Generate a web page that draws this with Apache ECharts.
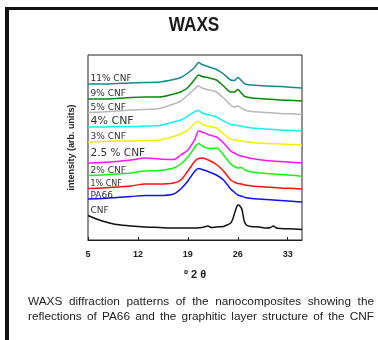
<!DOCTYPE html>
<html>
<head>
<meta charset="utf-8">
<script src="https://cdn.jsdelivr.net/npm/echarts@6/dist/echarts.min.js"></script>
<style>
  html, body { margin: 0; padding: 0; background: #fff; }
  #waxsChart { width: 378px; height: 340px; }
</style>
</head>
<body>
<div id="waxsChart"></div>
<script>
// 2θ grid shared by the composite curves
const twoTheta = [5, 7, 9, 11, 13, 15, 17, 18, 19, 20, 20.5, 21, 22, 23, 24, 25, 25.5, 26, 26.5, 27, 28, 30, 32, 34, 35];

// stacked (offset) intensities, arb. units
const cnf11 = [156, 156, 156.5, 157, 157.5, 158, 160.5, 162.5, 167, 173, 177.5, 175.5, 173, 170.5, 166, 160, 159.5, 162.5, 159.5, 156, 155, 154, 153.5, 152.5, 152];
const cnf9 = [141, 141, 141.5, 142.5, 143, 143, 146, 148, 152.5, 161, 165, 163.5, 162, 160, 154, 148, 148, 150.5, 147, 143.5, 142, 141, 140, 139.5, 139];
const cnf5 = [127.5, 128, 129, 130, 130.5, 131.5, 136, 139, 145, 151.5, 154, 152, 150, 148, 142, 135, 133, 134, 132, 130, 128.5, 127.5, 126.5, 126, 125.5];
const cnf4 = [113, 113, 113.5, 113.5, 114, 114.5, 118, 120, 124, 128.5, 129.5, 127, 125, 123, 119, 115.5, 115, 114.5, 114, 113, 112, 111, 110, 109.5, 109];
const cnf3 = [98, 98.5, 99, 99, 99.5, 100, 103.5, 106, 110, 117, 118.5, 115.5, 113.5, 112, 106, 101, 100, 99.5, 99, 98.5, 97.5, 96.5, 96, 95.5, 95];
const cnf25 = [77, 77.5, 78.5, 80, 82, 81, 80.5, 85, 90, 101, 109, 108, 105, 103, 97, 89, 87, 85, 84, 83, 81.5, 79.5, 78.5, 77.5, 77];
const cnf2 = [64.5, 65, 66, 67, 69, 69.5, 72, 76, 83, 93, 96.5, 94, 91.5, 92, 85, 76, 73.5, 72, 72.5, 70, 68, 66.5, 65.5, 64.5, 63.5];
const cnf1 = [51.5, 52, 53, 54, 56, 56, 57, 60, 69, 79, 81.5, 82, 79.5, 75.5, 69, 60, 58, 56.5, 56, 55, 54, 53, 52, 51.5, 51];
const pa66 = [41, 41.5, 42.5, 43.5, 44.5, 44.5, 46, 51, 59, 69, 71.5, 70.5, 68, 65, 60, 51, 48, 45, 44, 42.5, 41.5, 40.5, 39.5, 38.5, 38];

// pure CNF has its own grid (sharp graphite peak)
const cnfTheta = [5, 6, 7, 8, 9, 11, 13, 15, 17, 19, 21, 21.8, 22.3, 23, 24, 24.5, 25, 25.3, 25.6, 25.9, 26.1, 26.4, 26.6, 26.9, 27.2, 27.8, 29, 30, 30.6, 31, 31.4, 32, 34, 35];
const cnf = [24.5, 21.5, 19, 17, 15.5, 14, 13, 12.5, 12, 12, 12.5, 14, 12.5, 13, 13.5, 15, 17, 21, 28, 34, 35, 33, 30, 19, 15, 13.5, 13, 12, 12.5, 14, 12, 11.5, 11, 10.5];

const xTicks = [5, 12, 19, 26, 33];
const curveNames = ['11% CNF', '9% CNF', '5% CNF', '4% CNF', '3% CNF', '2.5 % CNF', '2% CNF', '1% CNF', 'PA66', 'CNF'];
const curveData = [cnf11, cnf9, cnf5, cnf4, cnf3, cnf25, cnf2, cnf1, pa66];
const colors = ['#16898b', '#0b860f', '#b8b8b8', '#12f2f2', '#f2f000', '#ff14ff', '#14f514', '#ff1010', '#1010ff', '#111111'];
const captionLines = [
  'WAXS diffraction patterns of the nanocomposites showing the',
  'reflections of PA66 and the graphitic layer structure of the CNF',
];

const pair = (xs, ys) => ys.map((v, i) => [xs[i], v]);

const seriesData = curveData.map((ys, i) => ({
  name: curveNames[i],
  type: 'line',
  showSymbol: false,
  smooth: 0.3,
  lineStyle: { width: 1.5, color: colors[i] },
  data: pair(twoTheta, ys),
}));
seriesData.push({
  name: 'CNF',
  type: 'line',
  showSymbol: false,
  smooth: 0.3,
  lineStyle: { width: 1.5, color: colors[9] },
  data: pair(cnfTheta, cnf),
});

// label text sits at the left end of each curve
const labelStyle = [
  { top: 78.3, size: 9 },
  { top: 93.7, size: 9 },
  { top: 107.5, size: 9 },
  { top: 120.7, size: 11 },
  { top: 136.7, size: 9 },
  { top: 153.3, size: 10.5 },
  { top: 170.7, size: 9 },
  { top: 184, size: 8 },
  { top: 196, size: 9 },
  { top: 210.7, size: 9 },
];
const curveLabels = curveNames.map((name, i) => ({
  type: 'text',
  x: 90.5,
  y: labelStyle[i].top,
  style: {
    text: name,
    font: `${labelStyle[i].size}px "DejaVu Sans"`,
    fill: '#333',
    verticalAlign: 'middle',
  },
}));

// justified caption: lay the words out between left and right margins
const captionFont = '11.8px "Liberation Sans", Arial';
const ctx = document.createElement('canvas').getContext('2d');
ctx.font = captionFont;
const captionText = [];
captionLines.forEach((line, row) => {
  const words = line.split(' ');
  const widths = words.map((w) => ctx.measureText(w).width);
  const used = widths.reduce((a, b) => a + b, 0);
  const gap = (374 - 28 - used) / (words.length - 1);
  let x = 28;
  words.forEach((w, i) => {
    captionText.push({
      type: 'text',
      x,
      y: 302 + row * 15,
      style: { text: w, font: captionFont, fill: '#222', verticalAlign: 'middle' },
    });
    x += widths[i] + gap;
  });
});

const options = {
  animation: false,
  backgroundColor: '#fff',
  grid: {
    left: 88,
    right: 76,
    top: 55,
    bottom: 100,
    show: true,
    borderColor: '#222',
    borderWidth: 1,
  },
  xAxis: {
    type: 'value',
    min: 5,
    max: 35,
    name: 'º 2 θ',
    nameLocation: 'middle',
    nameGap: 29,
    nameTextStyle: { fontFamily: 'Arial', fontWeight: 'bold', fontSize: 11, color: '#222' },
    axisLine: { lineStyle: { color: '#222' } },
    axisTick: { inside: true, length: 3, customValues: xTicks, lineStyle: { color: '#222' } },
    axisLabel: {
      customValues: xTicks,
      margin: 10,
      fontFamily: 'Arial',
      fontWeight: 'bold',
      fontSize: 9,
      color: '#222',
    },
    splitLine: { show: false },
  },
  yAxis: {
    type: 'value',
    min: 0,
    max: 185,
    name: 'intensity (arb. units)',
    nameLocation: 'middle',
    nameGap: 12,
    nameTextStyle: { fontFamily: 'Arial', fontWeight: 'bold', fontSize: 9, color: '#222' },
    axisLine: { show: false },
    axisTick: { show: false },
    axisLabel: { show: false },
    splitLine: { show: false },
  },
  series: seriesData,
  graphic: [
    // page frame
    { type: 'line', shape: { x1: 7, y1: 7, x2: 7, y2: 340 }, style: { stroke: '#111', lineWidth: 4 } },
    { type: 'line', shape: { x1: 5, y1: 8.5, x2: 378, y2: 8.5 }, style: { stroke: '#111', lineWidth: 3 } },
    {
      type: 'text',
      x: 194,
      y: 25,
      scaleX: 0.82,
      style: {
        text: 'WAXS',
        font: 'bold 21px "Liberation Sans", Arial',
        fill: '#1a1a1a',
        align: 'center',
        verticalAlign: 'middle',
      },
    },
    ...curveLabels,
    ...captionText,
  ],
};

const myChart = echarts.init(document.getElementById('waxsChart'));
myChart.setOption(options);
</script>
</body>
</html>
